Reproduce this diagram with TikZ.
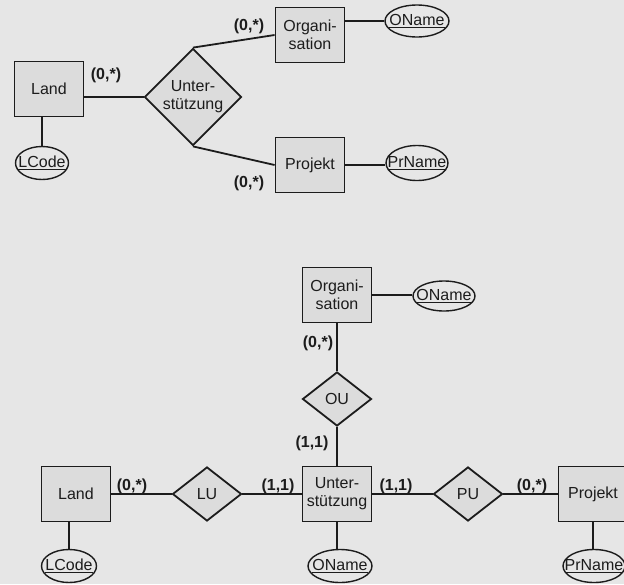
\documentclass[tikz,border=0pt]{standalone}
\usepackage{fontspec}
\setmainfont{Liberation Sans}
\usetikzlibrary{shapes.geometric}
\definecolor{bggray}{HTML}{E6E6E6}
\definecolor{boxgray}{HTML}{DCDCDC}
\definecolor{ink}{HTML}{1C1C1C}
\newcommand{\keyattr}[1]{\makebox[0pt]{\raisebox{-2pt}{\underline{#1}}}}
\begin{document}
\begin{tikzpicture}[x=1pt,y=-1pt,
    entity/.style={draw=ink,line width=1.8pt,fill=boxgray,rectangle,
      minimum width=69pt,minimum height=55pt,inner sep=0pt,align=center,
      text=ink,font=\fontsize{16}{18}\selectfont},
    rel/.style={draw=ink,line width=1.8pt,fill=boxgray,diamond,
      minimum width=69pt,minimum height=54pt,inner sep=0pt,align=center,
      text=ink,font=\fontsize{16}{18}\selectfont},
    attr/.style={draw=ink,line width=1.4pt,fill=bggray,ellipse,
      minimum width=62pt,minimum height=33pt,inner sep=0pt,
      text=ink,font=\fontsize{16}{18}\selectfont},
    card/.style={text=ink,font=\bfseries\fontsize{16}{18}\selectfont}]
      \fill[bggray] (0,0) rectangle (624,584);
      \useasboundingbox (0,0) rectangle (624,584);
      % ternary relationship
      \path
        (49,89) node[entity] (land1){Land}
        (42,163) node[attr,minimum width=53pt] (lcode1){\keyattr{LCode}}
        (193,97) node[rel,minimum width=97pt,minimum height=97pt] (unt1){Unter-\\stützung}
        (310,35) node[entity] (org1){Organi-\\sation}
        (417,21) node[attr,minimum width=64pt,minimum height=32pt] (oname1){\keyattr{OName}}
        (310,165) node[entity] (proj1){Projekt}
        (417,163) node[attr,minimum height=35pt] (prname1){\keyattr{PrName}}
        (106,75) node[card] (c1){(0,*)}
        (249,26) node[card] (c2){(0,*)}
        (249,183) node[card] (c3){(0,*)};
      \begin{scope}[draw=ink,line width=1.8pt]
        \draw (land1.east |- unt1.west) to (unt1.west);
        \draw (lcode1.north) to (lcode1.north |- land1.south);
        \draw (unt1.north) to (org1.west);
        \draw (unt1.south) to (proj1.west);
        \draw (org1.east |- oname1.west) to (oname1.west);
        \draw (proj1.east) to (proj1.east -| prname1.west);
      \end{scope}
      % binary relationships
      \path
        (76,494) node[entity] (land2){Land}
        (69,566) node[attr,minimum width=55pt] (lcode2){\keyattr{LCode}}
        (207,494) node[rel] (lu){LU}
        (337,494) node[entity] (unt2){Unter-\\stützung}
        (340,566) node[attr,minimum width=64pt] (oname3){\keyattr{OName}}
        (337,399) node[rel] (ou){OU}
        (337,295) node[entity] (org2){Organi-\\sation}
        (444,296) node[attr,minimum height=30pt] (oname2){\keyattr{OName}}
        (468,494) node[rel] (pu){PU}
        (593,494) node[entity] (proj2){Projekt}
        (594,566) node[attr] (prname2){\keyattr{PrName}}
        (318,343) node[card] (c4){(0,*)}
        (312,443) node[card] (c5){(1,1)}
        (132,486) node[card] (c6){(0,*)}
        (278,486) node[card] (c7){(1,1)}
        (396,486) node[card] (c8){(1,1)}
        (532,486) node[card] (c9){(0,*)};
      \begin{scope}[draw=ink,line width=1.8pt]
        \draw (land2) to (lu);
        \draw (lu) to (unt2);
        \draw (unt2) to (pu);
        \draw (pu) to (proj2);
        \draw (unt2) to (ou);
        \draw (ou) to (org2);
        \draw (org2.east) to (org2.east -| oname2.west);
        \draw (lcode2.north) to (lcode2.north |- land2.south);
        \draw (unt2.south) to (unt2.south |- oname3.north);
        \draw (proj2.south) to (proj2.south |- prname2.north);
      \end{scope}
    \end{tikzpicture}
\end{document}
